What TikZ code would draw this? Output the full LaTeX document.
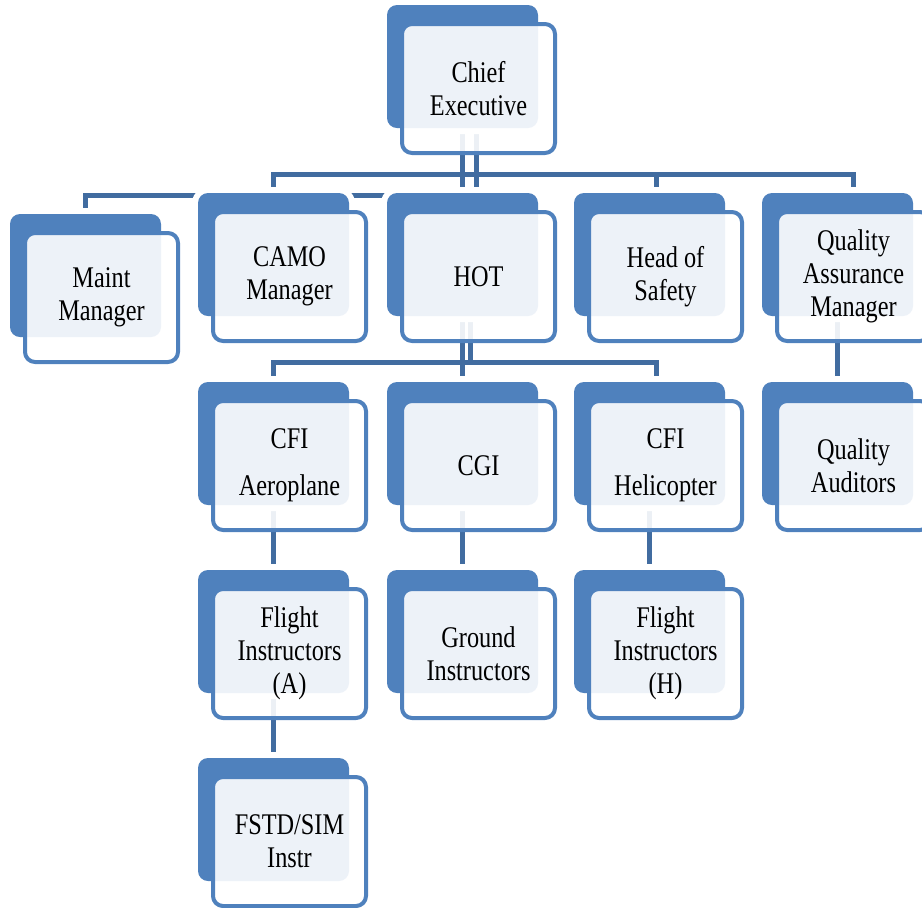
\documentclass[tikz,border=0pt]{standalone}
\usepackage{fontspec}
\setmainfont{Liberation Serif}[FakeStretch=0.81]
\usetikzlibrary{backgrounds,calc}
\definecolor{boxblue}{RGB}{79,129,189}
\definecolor{lineblue}{RGB}{65,108,160}
\begin{document}
\begin{tikzpicture}[x=0.5pt,y=-0.5pt,line join=round,
	boxback/.style={rectangle,rounded corners=5pt,fill=boxblue,inner sep=0pt,minimum width=75.5pt,minimum height=61.5pt,preaction={draw=white,line width=6pt}},
	boxfront/.style={rectangle,rounded corners=5pt,draw=boxblue,line width=2pt,fill=white,fill opacity=0.9,text opacity=1,inner sep=0pt,minimum width=76.5pt,minimum height=64.5pt,align=center,font=\fontsize{15}{16.5}\selectfont},
	link/.style={draw=lineblue,line width=2.5pt}]
	\useasboundingbox (0,0) rectangle (922,907);
	\foreach \nm/\x/\y/\txt in {ceo/387/5/{Chief\\Executive},maint/10/214/{Maint\\Manager},camo/198/193/{CAMO\\Manager},hot/387/193/{HOT},hos/574/193/{Head of\\Safety},qa/762/193/{Quality\\Assurance\\Manager},cfia/198/382/{CFI\\[7pt]Aeroplane},cgi/387/382/{CGI},cfih/574/382/{CFI\\[7pt]Helicopter},qaa/762/382/{Quality\\Auditors},fla/198/570/{Flight\\Instructors\\(A)},gnd/387/570/{Ground\\Instructors},flh/574/570/{Flight\\Instructors\\(H)},fstd/198/758/{FSTD/SIM\\Instr}}{
		\node[boxback] (\nm) at (\x+75.5,\y+61.5) {};
		\node[boxfront] (\nm-f) at (\x+91.5,\y+83.5) {\txt};
	}
	\coordinate (topbar) at (0,174.5);
	\coordinate (mbar) at (0,195);
	\coordinate (hotbar) at (0,362);
	\coordinate (ceo-r) at ($(ceo.south)+(14,0)$);
	\coordinate (hos-r) at ($(hos.north)+(7,0)$);
	\coordinate (hot-r) at ($(hot.south)+(8,0)$);
	\coordinate (cfih-r) at ($(cfih.north)+(7,0)$);
	\begin{scope}[on background layer]
		\draw[link] (ceo.south) -- (hot.north);
		\draw[link] (ceo-r) -- (ceo-r |- mbar) -- (maint.north |- mbar) -- (maint.north);
		\draw[link] (camo.north) -- (camo.north |- topbar) -- (qa-f.north |- topbar) -- (qa-f.north |- qa.north);
		\draw[link] (hos-r |- topbar) -- (hos-r);
		\draw[link] (hot-r) -- (hot-r |- hotbar);
		\draw[link] (cfia.north) -- (cfia.north |- hotbar) -- (cfih-r |- hotbar) -- (cfih-r);
		\draw[link] (hot.south) -- (cgi.north);
		\draw[link] (cfia.south) -- (fla.north);
		\draw[link] (cgi.south) -- (gnd.north);
		\draw[link] (cfih.south) -- (flh.north);
		\draw[link] (fla.south) -- (fstd.north);
		\draw[link] (qa.south) -- (qaa.north);
	\end{scope}
\end{tikzpicture}
\end{document}
